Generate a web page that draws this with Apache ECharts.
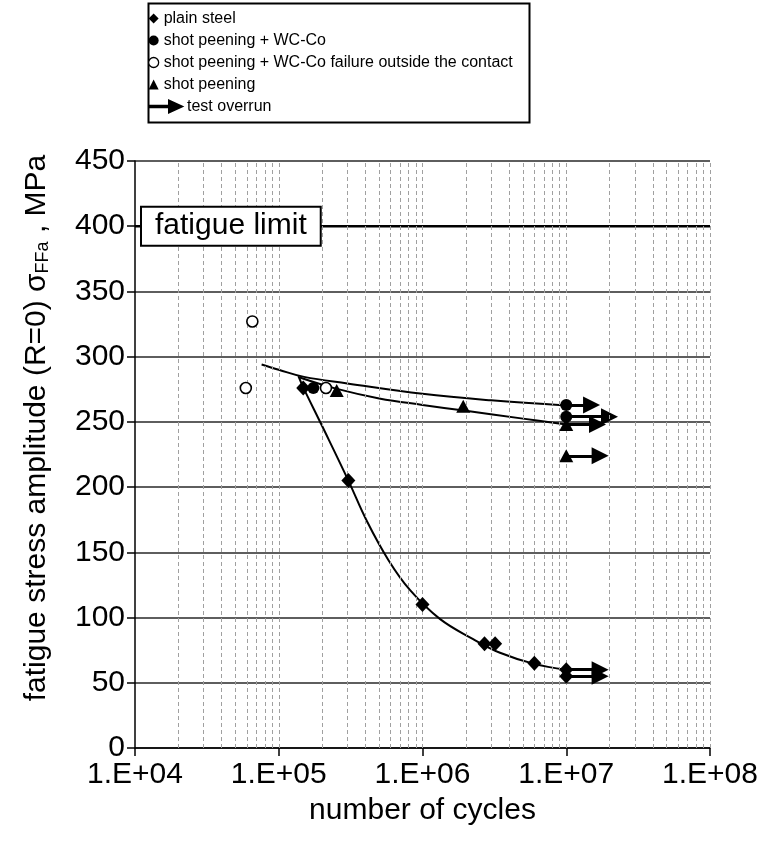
<!DOCTYPE html>
<html><head><meta charset="utf-8">
<script src="https://cdn.jsdelivr.net/npm/echarts@6/dist/echarts.min.js"></script>
<style>html,body{margin:0;padding:0;background:#fff}#c{width:765px;height:854px}</style>
</head><body><div id="c"></div>
<script>
// ---- axis ticks ----
const xTickValues = [1e4, 1e5, 1e6, 1e7, 1e8];
const xTickLabels = ['1.E+04', '1.E+05', '1.E+06', '1.E+07', '1.E+08'];
const yTickValues = [0, 50, 100, 150, 200, 250, 300, 350, 400, 450];
const verticalGrid = [
  2e4,3e4,4e4,5e4,6e4,7e4,8e4,9e4,1e5,
  2e5,3e5,4e5,5e5,6e5,7e5,8e5,9e5,1e6,
  2e6,3e6,4e6,5e6,6e6,7e6,8e6,9e6,1e7,
  2e7,3e7,4e7,5e7,6e7,7e7,8e7,9e7,1e8
];
// ---- data points [cycles, MPa] ----
const plainSteel = [[1.48e5,276],[3.05e5,205],[1.0e6,110],[2.7e6,80],[3.2e6,80],[6.0e6,65],[1.0e7,60],[1.0e7,55]];
const wcCo = [[1.74e5,276],[1.0e7,263],[1.0e7,254]];
const wcCoOutside = [[5.9e4,276],[6.55e4,327],[2.13e5,276]];
const shotPeening = [[2.53e5,274],[1.92e6,262],[1.0e7,248],[1.0e7,224]];
// ---- test overrun arrows ----
const overrunFrom = [1e7, 1e7, 1e7, 1e7, 1e7, 1e7];
const overrunTo   = [1.5e7, 2.0e7, 1.65e7, 1.72e7, 1.72e7, 1.72e7];
const overrunLevel = [263, 254, 248, 224, 60, 55];
// ---- trend curves ----
const trendPlain = [[1.37e5,285],[1.48e5,276.5],[2.0e5,247],[3.05e5,205],[4.1e5,174],[5.8e5,144],[8.2e5,121],[1.32e6,99],[2.25e6,83.5],[3.46e6,73],[5.9e6,64.7],[1.0e7,60]];
const trendWcCo = [[7.6e4,294],[1.0e5,290],[1.5e5,284.5],[3.0e5,279.5],[1.0e6,271.5],[3.0e6,266.5],[1.0e7,262.5]];
const trendShot = [[1.4e5,284],[2.5e5,275.5],[5.0e5,268],[1.0e6,263],[2.0e6,258.5],[5.0e6,252.5],[1.0e7,248]];
const fatigueLimit = 400;
const fatigueLabel = 'fatigue limit';

const FONT = 'Liberation Sans, Arial, sans-serif';
const chart = echarts.init(document.getElementById('c'), null, {renderer: 'canvas'});

const arrowData = overrunLevel.map((v, i) => ({coords: [[overrunFrom[i], v], [overrunTo[i], v]]}));

const option = {
  animation: false,
  backgroundColor: '#fff',
  textStyle: {fontFamily: FONT, color: '#000'},
  grid: {left: 135, right: 55, top: 161, bottom: 106, containLabel: false},
  legend: [{
    orient: 'vertical', left: 148, top: 10, itemGap: 5, padding: 0,
    itemWidth: 10, itemHeight: 10,
    textStyle: {fontSize: 16, lineHeight: 17, fontFamily: FONT, color: '#000'},
    data: [
      {name: 'plain steel', icon: 'diamond', itemStyle: {color: '#000', opacity: 1}},
      {name: 'shot peening + WC-Co', icon: 'circle', itemStyle: {color: '#000', opacity: 1}},
      {name: 'shot peening + WC-Co failure outside the contact', icon: 'circle', itemStyle: {color: '#fff', borderColor: '#000', borderWidth: 1.3, opacity: 1}},
      {name: 'shot peening', icon: 'triangle', itemStyle: {color: '#000', opacity: 1}}
    ]
  }, {
    orient: 'vertical', left: 148, top: 98, padding: 0, itemWidth: 33, itemHeight: 12, itemGap: 3,
    textStyle: {fontSize: 16, lineHeight: 17, fontFamily: FONT, color: '#000'},
    data: [{name: 'test overrun', icon: 'path://M0,5.2 L20,5.2 L20,0 L33,6 L20,12 L20,6.8 L0,6.8 Z', itemStyle: {color: '#000', opacity: 1}}]
  }],
  graphic: [{
    type: 'rect', left: 146, top: 1, silent: true,
    shape: {width: 381, height: 119},
    style: {fill: 'none', stroke: '#000', lineWidth: 2}
  }, {
    type: 'text', silent: true,
    x: 35, y: 428, rotation: Math.PI / 2,
    style: {
      text: '{m|fatigue stress amplitude (R=0) σ}{s|FFa}{m| , MPa}',
      align: 'center', verticalAlign: 'middle',
      rich: {
        m: {fontSize: 30, fontFamily: FONT, fill: '#000', verticalAlign: 'bottom', lineHeight: 34},
        s: {fontSize: 18, fontFamily: FONT, fill: '#000', verticalAlign: 'bottom', lineHeight: 28}
      }
    }
  }],
  xAxis: {
    type: 'log', logBase: 10, min: xTickValues[0], max: xTickValues[xTickValues.length - 1],
    name: 'number of cycles', nameLocation: 'middle', nameGap: 48,
    nameTextStyle: {fontSize: 30, fontFamily: FONT, color: '#000'},
    axisLine: {onZero: false, lineStyle: {color: '#000', width: 1.5}},
    axisTick: {show: true, inside: false, length: 8, lineStyle: {color: '#000', width: 1.5}},
    axisLabel: {
      fontSize: 30, fontFamily: FONT, color: '#000', margin: 12,
      formatter: v => { const i = xTickValues.findIndex(t => Math.abs(Math.log10(t) - Math.log10(v)) < 1e-6); return i >= 0 ? xTickLabels[i] : ''; }
    },
    splitLine: {show: false}, minorTick: {show: false}
  },
  yAxis: {
    type: 'value', min: yTickValues[0], max: yTickValues[yTickValues.length - 1], interval: 50,
    axisLine: {show: true, lineStyle: {color: '#000', width: 1.5}},
    axisTick: {show: true, inside: false, length: 8, lineStyle: {color: '#000', width: 1.5}},
    axisLabel: {fontSize: 30, fontFamily: FONT, color: '#000', margin: 10},
    splitLine: {show: true, lineStyle: {color: '#5e5e5e', width: 1.8}}
  },
  series: [
    {
      name: 'grid-v', type: 'line', data: [], silent: true,
      markLine: {
        silent: true, symbol: ['none', 'none'], label: {show: false}, animation: false,
        lineStyle: {color: '#a0a0a0', type: [4, 3], width: 1},
        data: verticalGrid.map(v => ({xAxis: v}))
      }
    },
    {
      name: 'fatigue limit', type: 'line', silent: true, symbol: 'none',
      data: [[xTickValues[0], fatigueLimit], [xTickValues[xTickValues.length - 1], fatigueLimit]],
      lineStyle: {color: '#000', width: 2.5}, z: 3
    },
    {name: 'trend plain', type: 'line', smooth: 0.4, symbol: 'none', silent: true, data: trendPlain, lineStyle: {color: '#000', width: 2}, z: 3},
    {name: 'trend wc', type: 'line', smooth: 0.4, symbol: 'none', silent: true, data: trendWcCo, lineStyle: {color: '#000', width: 2}, z: 3},
    {name: 'trend shot', type: 'line', smooth: 0.4, symbol: 'none', silent: true, data: trendShot, lineStyle: {color: '#000', width: 2}, z: 3},
    {
      name: 'test overrun', type: 'lines', coordinateSystem: 'cartesian2d', silent: true,
      symbol: ['none', 'triangle'], symbolSize: [17, 17],
      lineStyle: {color: '#000', width: 3, opacity: 1}, itemStyle: {color: '#000'}, z: 4,
      data: arrowData
    },
    {name: 'plain steel', type: 'scatter', symbol: 'diamond', symbolSize: [14, 15], data: plainSteel, itemStyle: {color: '#000', opacity: 1}, z: 5},
    {name: 'shot peening + WC-Co', type: 'scatter', symbol: 'circle', symbolSize: 12, data: wcCo, itemStyle: {color: '#000', opacity: 1}, z: 5},
    {name: 'shot peening + WC-Co failure outside the contact', type: 'scatter', symbol: 'circle', symbolSize: 11, data: wcCoOutside, itemStyle: {color: '#fff', borderColor: '#000', borderWidth: 1.6, opacity: 1}, z: 5},
    {name: 'shot peening', type: 'scatter', symbol: 'triangle', symbolSize: [14, 13], data: shotPeening, itemStyle: {color: '#000', opacity: 1}, z: 5}
  ]
};
chart.setOption(option);

// fatigue-limit label box anchored at the data point (first tick, fatigue limit)
const p = chart.convertToPixel({gridIndex: 0}, [xTickValues[0], fatigueLimit]);
chart.setOption({
  graphic: [{}, {}, {
    type: 'text', silent: true, z: 10,
    x: p[0] + 7, y: p[1],
    style: {
      text: fatigueLabel, fontSize: 30, fontFamily: FONT, fill: '#000',
      verticalAlign: 'middle', align: 'left',
      backgroundColor: '#fff', borderColor: '#000', borderWidth: 2,
      padding: [3, 13, 4, 13]
    }
  }]
});
</script></body></html>
